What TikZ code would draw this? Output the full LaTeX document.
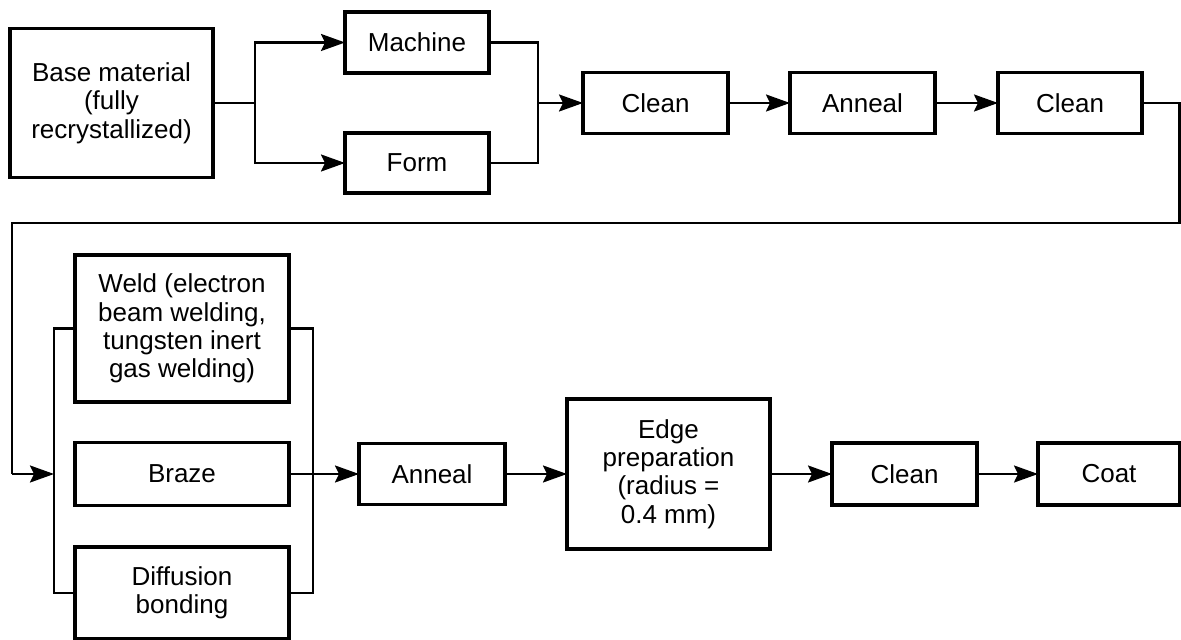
\documentclass[tikz,border=0pt]{standalone}
\usepackage{fontspec}
\setmainfont{Liberation Sans}
\usetikzlibrary{arrows.meta}

\begin{document}
\begin{tikzpicture}[x=0.5pt, y=-0.5pt,
  stepbox/.style={draw, line width=1.7pt, align=center, inner sep=0pt, outer sep=0pt,
    font=\fontsize{13}{14.2}\selectfont},
  link/.style={line width=1.1pt},
  flow/.style={link, -{Stealth[length=12pt, width=8.5pt, inset=2pt]}},
]
\useasboundingbox (0,0) rectangle (1181,640);

% first row
\node[stepbox, minimum width=101.5pt, minimum height=74.5pt] (base) at (111.5,103)
  {Base material\\(fully\\recrystallized)};
\node[stepbox, minimum width=72pt, minimum height=30.5pt] (machine) at (417,42.5) {Machine};
\node[stepbox, minimum width=72pt, minimum height=30pt] (form) at (417,163) {Form};
\node[stepbox, minimum width=72.5pt, minimum height=30.5pt] (clean1) at (655.5,103) {Clean};
\node[stepbox, minimum width=72.5pt, minimum height=30.5pt] (anneal1) at (862.5,103) {Anneal};
\node[stepbox, minimum width=72pt, minimum height=30.5pt] (clean2) at (1070,103) {Clean};

% second row
\node[stepbox, minimum width=107pt, minimum height=73.5pt] (weld) at (182,328.5)
  {Weld (electron\\beam welding,\\tungsten inert\\gas welding)};
\node[stepbox, minimum width=107pt, minimum height=31.5pt] (braze) at (182,474) {Braze};
\node[stepbox, minimum width=107pt, minimum height=46pt] (diff) at (182,593)
  {Diffusion\\bonding};
\node[stepbox, minimum width=73pt, minimum height=30.5pt] (anneal2) at (432,474) {Anneal};
\node[stepbox, minimum width=101.5pt, minimum height=75pt] (edge) at (668.5,474)
  {Edge\\preparation\\(radius =\\0.4 mm)};
\node[stepbox, minimum width=72.5pt, minimum height=31pt] (clean3) at (904.5,474) {Clean};
\node[stepbox, minimum width=71pt, minimum height=31pt] (coat) at (1109,474) {Coat};

% split after the base material
\coordinate (split) at (255,103);
\draw[link] (base.east) -- (split);
\draw[flow] (split) |- (machine.west);
\draw[flow] (split) |- (form.west);

% merge into cleaning
\coordinate (merge) at (538,103);
\draw[link] (machine.east) -| (merge);
\draw[link] (form.east) -| (merge);
\draw[flow] (merge) -- (clean1.west);
\draw[flow] (clean1) -- (anneal1);
\draw[flow] (anneal1) -- (clean2);

% return line to the joining step
\coordinate (r1) at (1179.5,103);
\coordinate (r2) at (1179.5,223);
\coordinate (r3) at (12,223);
\coordinate (r4) at (12,474);
\coordinate (lbus) at (54,474);
\draw[link] (clean2.east) -- (r1) -- (r2) -- (r3) -- (r4);
\draw[flow] (r4) -- (lbus);

% bus lines round the joining alternatives
\coordinate (ltop) at (54,328.5);
\coordinate (lbot) at (54,593);
\coordinate (rtop) at (313,328.5);
\coordinate (rbot) at (313,593);
\draw[link] (weld.west) -- (ltop) -- (lbot) -- (diff.west);
\draw[link] (weld.east) -- (rtop) -- (rbot) -- (diff.east);

% final chain
\draw[flow] (braze.east) -- (anneal2.west);
\draw[flow] (anneal2) -- (edge);
\draw[flow] (edge) -- (clean3);
\draw[flow] (clean3) -- (coat);
\end{tikzpicture}
\end{document}
